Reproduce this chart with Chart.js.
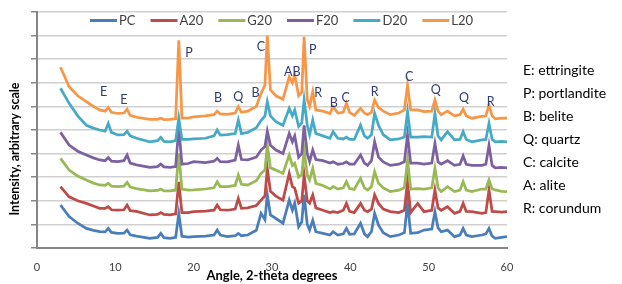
<!DOCTYPE html>
<html>
<head>
<meta charset="utf-8">
<script src="https://cdn.jsdelivr.net/npm/chart.js@4/dist/chart.umd.min.js"></script>
<style>
  html, body { margin: 0; padding: 0; background: #fff; }
  #wrap { width: 622px; height: 284px; position: relative; }
</style>
</head>
<body>
<div id="wrap"><canvas id="xrdChart"></canvas></div>
<script>
/* 2-theta angles shared by all patterns */
const angles = [3, 4.1, 5.2, 6.3, 7.2, 8.0, 8.7, 9.1, 9.5, 10.3,
  11.1, 11.5, 11.9, 12.7, 14.4, 15.4, 15.8, 16.2, 17.0, 17.7,
  18.1, 18.5, 19.3, 20.0, 21.5, 22.6, 23.0, 23.4, 24.3, 25.3,
  25.7, 26.1, 26.9, 28.0, 28.6, 29.1, 29.4, 29.8, 30.5, 31.4,
  32.2, 32.6, 32.9, 33.4, 33.8, 34.1, 34.5, 34.8, 35.2, 35.6,
  36.5, 37.4, 37.8, 38.4, 39.1, 39.5, 39.9, 40.5, 41.3, 41.8,
  42.2, 42.7, 43.1, 43.6, 44.2, 45.1, 46.2, 46.9, 47.3, 47.7,
  48.6, 49.4, 50.4, 50.8, 51.2, 51.6, 52.4, 53.3, 54.0, 54.4,
  54.8, 55.5, 56.8, 57.3, 57.7, 58.1, 58.5, 59.3, 60];

/* Intensities (arbitrary, already offset as plotted) */
const pc = [1.82, 1.33, 1.05, 0.83, 0.75, 0.69, 0.68, 0.83, 0.66, 0.62,
  0.63, 0.76, 0.56, 0.5, 0.41, 0.45, 0.62, 0.44, 0.41, 0.45,
  1.45, 0.5, 0.46, 0.48, 0.5, 0.55, 0.76, 0.55, 0.48, 0.52,
  0.62, 0.52, 0.55, 0.75, 1.47, 1.2, 2.25, 1.4, 1.25, 1.05,
  2.03, 1.6, 1.9, 0.9, 1.1, 2.25, 1.0, 0.76, 1.17, 0.69,
  0.62, 0.55, 0.69, 0.55, 0.6, 0.83, 0.58, 0.6, 1.05, 0.6,
  0.48, 0.7, 1.47, 0.97, 0.65, 0.48, 0.55, 0.65, 1.89, 0.62,
  0.65, 0.76, 0.8, 1.54, 0.85, 0.69, 0.76, 0.48, 0.55, 0.83,
  0.55, 0.48, 0.55, 0.6, 0.83, 0.5, 0.41, 0.45, 0.48];

const a20 = [2.6, 2.17, 2.0, 1.89, 1.78, 1.68, 1.68, 1.75, 1.62, 1.6,
  1.62, 1.82, 1.58, 1.55, 1.4, 1.42, 1.5, 1.42, 1.4, 1.45,
  2.8, 1.5, 1.5, 1.54, 1.56, 1.6, 1.82, 1.62, 1.6, 1.65,
  2.1, 1.68, 1.7, 1.8, 2.03, 2.2, 3.38, 2.4, 2.2, 2.03,
  3.16, 2.6, 2.54, 1.9, 2.0, 3.09, 2.0, 1.9, 2.25, 1.7,
  1.6, 1.5, 1.54, 1.5, 1.6, 1.89, 1.55, 1.5, 1.89, 1.6,
  1.54, 1.65, 2.25, 1.89, 1.65, 1.54, 1.5, 1.6, 2.81, 1.5,
  1.89, 1.54, 1.6, 2.46, 1.7, 1.6, 1.75, 1.47, 1.55, 1.89,
  1.55, 1.54, 1.47, 1.5, 2.46, 1.55, 1.54, 1.52, 1.54];

const g20 = [3.8, 3.3, 3.05, 2.88, 2.75, 2.67, 2.65, 2.74, 2.62, 2.6,
  2.62, 2.78, 2.58, 2.52, 2.42, 2.44, 2.5, 2.42, 2.42, 2.45,
  4.0, 2.5, 2.45, 2.46, 2.5, 2.55, 2.81, 2.6, 2.6, 2.65,
  3.09, 2.7, 2.67, 2.85, 3.16, 3.3, 4.36, 3.4, 3.3, 3.16,
  3.94, 3.5, 3.59, 3.0, 3.1, 4.15, 3.1, 2.88, 3.38, 2.74,
  2.65, 2.5, 2.6, 2.5, 2.55, 2.81, 2.52, 2.48, 2.95, 2.55,
  2.46, 2.6, 3.23, 2.74, 2.55, 2.39, 2.45, 2.55, 3.73, 2.5,
  2.52, 2.5, 2.55, 3.38, 2.55, 2.39, 2.6, 2.39, 2.45, 2.81,
  2.45, 2.39, 2.5, 2.5, 2.88, 2.5, 2.46, 2.4, 2.39];

const f20 = [4.9, 4.36, 4.1, 3.94, 3.82, 3.73, 3.7, 3.83, 3.68, 3.66,
  3.7, 3.94, 3.6, 3.52, 3.42, 3.45, 3.56, 3.44, 3.42, 3.45,
  5.1, 3.55, 3.58, 3.66, 3.62, 3.68, 3.8, 3.66, 3.65, 3.72,
  4.36, 3.75, 3.73, 3.85, 4.15, 4.3, 4.95, 4.35, 4.15, 4.0,
  4.85, 4.5, 4.75, 3.85, 4.0, 5.2, 4.0, 3.66, 4.15, 3.75,
  3.7, 3.6, 3.65, 3.55, 3.58, 3.65, 3.55, 3.55, 3.94, 3.6,
  3.5, 3.7, 4.5, 3.85, 3.65, 3.5, 3.55, 3.65, 4.79, 3.6,
  3.6, 3.55, 3.6, 4.43, 3.65, 3.55, 3.7, 3.5, 3.55, 3.9,
  3.55, 3.5, 3.5, 3.55, 4.35, 3.5, 3.4, 3.42, 3.4];

const d20 = [6.77, 6.13, 5.6, 5.2, 5.08, 5.0, 4.95, 5.28, 4.9, 4.79,
  4.8, 4.95, 4.75, 4.65, 4.5, 4.55, 4.69, 4.52, 4.5, 4.55,
  5.5, 4.6, 4.6, 4.62, 4.65, 4.75, 5.0, 4.78, 4.8, 4.85,
  5.42, 4.85, 4.9, 5.1, 5.4, 5.6, 6.2, 5.6, 5.35, 5.2,
  5.92, 5.6, 5.85, 5.15, 5.3, 6.27, 5.2, 4.8, 5.42, 4.85,
  4.75, 4.65, 4.93, 4.65, 4.62, 4.7, 4.6, 4.6, 5.2, 4.75,
  4.65, 4.8, 5.7, 5.2, 4.8, 4.58, 4.62, 4.7, 5.78, 4.7,
  4.7, 4.72, 4.7, 5.7, 4.75, 4.58, 4.93, 4.58, 4.6, 4.93,
  4.6, 4.5, 4.58, 4.6, 5.28, 4.6, 4.5, 4.52, 4.5];

const l20 = [7.66, 6.83, 6.45, 6.2, 6.0, 5.85, 5.8, 5.95, 5.75, 5.7,
  5.72, 5.88, 5.62, 5.54, 5.45, 5.45, 5.5, 5.44, 5.45, 5.48,
  8.8, 5.5, 5.5, 5.56, 5.6, 5.65, 5.8, 5.68, 5.66, 5.72,
  5.99, 5.75, 5.8, 6.0, 6.55, 6.9, 9.0, 6.7, 6.45, 6.3,
  7.26, 7.0, 7.33, 6.45, 6.6, 8.95, 6.3, 6.0, 6.62, 5.85,
  5.8, 5.7, 6.0, 5.72, 5.75, 6.13, 5.75, 5.62, 5.92, 5.72,
  5.65, 5.75, 6.27, 5.95, 5.8, 5.65, 5.72, 5.85, 6.9, 5.85,
  5.85, 5.78, 5.8, 6.27, 5.8, 5.65, 5.8, 5.6, 5.65, 5.88,
  5.6, 5.5, 5.58, 5.6, 6.06, 5.6, 5.47, 5.5, 5.5];

const seriesNames = ["PC", "A20", "G20", "F20", "D20", "L20"];
const seriesData = [pc, a20, g20, f20, d20, l20];
const seriesColors = ["#4a7ebb", "#be4b48", "#98b954", "#7d60a0", "#46aac5", "#f79646"];

/* peak letters above the L20 trace: [angle, level, letter] */
const peakLabels = [
  [8.5, 6.62, "E"], [11.1, 6.27, "E"], [19.4, 8.25, "P"], [23.1, 6.34, "B"],
  [25.7, 6.41, "Q"], [27.9, 6.55, "B"], [28.6, 8.5, "C"], [32.6, 7.45, "AB"],
  [35.2, 8.4, "P"], [35.9, 6.55, "R"], [37.9, 6.13, "B"], [39.4, 6.34, "C"],
  [43.1, 6.62, "R"], [47.5, 7.26, "C"], [50.9, 6.7, "Q"], [54.5, 6.34, "Q"],
  [57.9, 6.2, "R"]];

const keyLines = ["E: ettringite", "P: portlandite", "B: belite", "Q: quartz",
  "C: calcite", "A: alite", "R: corundum"];

const FONT = "Lato, 'Open Sans', sans-serif";

/* Legend, peak letters, phase key and y title */
const extrasPlugin = {
  id: "extras",
  afterDraw(chart) {
    const ctx = chart.ctx;
    const xs = chart.scales.x, ys = chart.scales.y;
    ctx.save();

    // series legend inside the top of the plot
    ctx.font = "13px " + FONT;
    ctx.textBaseline = "middle";
    let lx = 90;
    seriesNames.forEach((name, i) => {
      ctx.fillStyle = seriesColors[i];
      ctx.fillRect(lx, 19, 27, 3);
      ctx.fillStyle = "#404040";
      ctx.textAlign = "left";
      ctx.fillText(name, lx + 29, 21);
      lx += 29 + ctx.measureText(name).width + 15;
    });

    // peak letters
    ctx.font = "12.5px " + FONT;
    ctx.fillStyle = "#2f3b73";
    ctx.textAlign = "center";
    peakLabels.forEach(p => {
      ctx.fillText(p[2], xs.getPixelForValue(p[0]), ys.getPixelForValue(p[1]));
    });

    // phase key on the right
    ctx.font = "14px " + FONT;
    ctx.fillStyle = "#000";
    ctx.textAlign = "left";
    keyLines.forEach((t, i) => ctx.fillText(t, 523, 70 + i * 23));

    // y axis title
    ctx.translate(15, 149);
    ctx.rotate(-Math.PI / 2);
    ctx.font = "bold 12.5px " + FONT;
    ctx.textAlign = "center";
    ctx.fillText("Intensity, arbitrary scale", 0, 0);
    ctx.restore();
  }
};

function buildDatasets() {
  return seriesNames.map((name, i) => ({
    label: name,
    data: angles.map((a, k) => ({ x: a, y: seriesData[i][k] })),
    borderColor: seriesColors[i],
    backgroundColor: seriesColors[i],
    borderWidth: 2.75,
    pointRadius: 0,
    tension: 0,
    order: seriesNames.length - i
  }));
}

new Chart(document.getElementById("xrdChart"), {
  type: "line",
  data: { datasets: buildDatasets() },
  plugins: [extrasPlugin],
  options: {
    responsive: true,
    maintainAspectRatio: false,
    animation: false,
    layout: { padding: { left: 0, right: 115, top: 12, bottom: 0 } },
    plugins: { legend: { display: false }, tooltip: { enabled: false } },
    scales: {
      x: {
        type: "linear",
        min: 0,
        max: 60,
        ticks: { stepSize: 10, padding: 7, color: "#404040", font: { size: 11, family: FONT } },
        grid: { display: false, drawOnChartArea: false, tickLength: 6, tickColor: "#868686" },
        border: { color: "#868686", width: 2 },
        title: {
          display: true,
          text: "Angle, 2-theta degrees",
          color: "#000",
          font: { size: 13, weight: "bold", family: FONT },
          padding: { top: 0, bottom: 0 }
        },
        afterFit: s => { s.height = 36; }
      },
      y: {
        min: 0,
        max: 10,
        ticks: { stepSize: 1, display: false },
        grid: { color: "#d0d0d0", lineWidth: 1.5, tickLength: 6, tickColor: "#868686" },
        border: { color: "#868686", width: 2 },
        afterFit: s => { s.width = 37; }
      }
    }
  }
});
</script>
</body>
</html>
